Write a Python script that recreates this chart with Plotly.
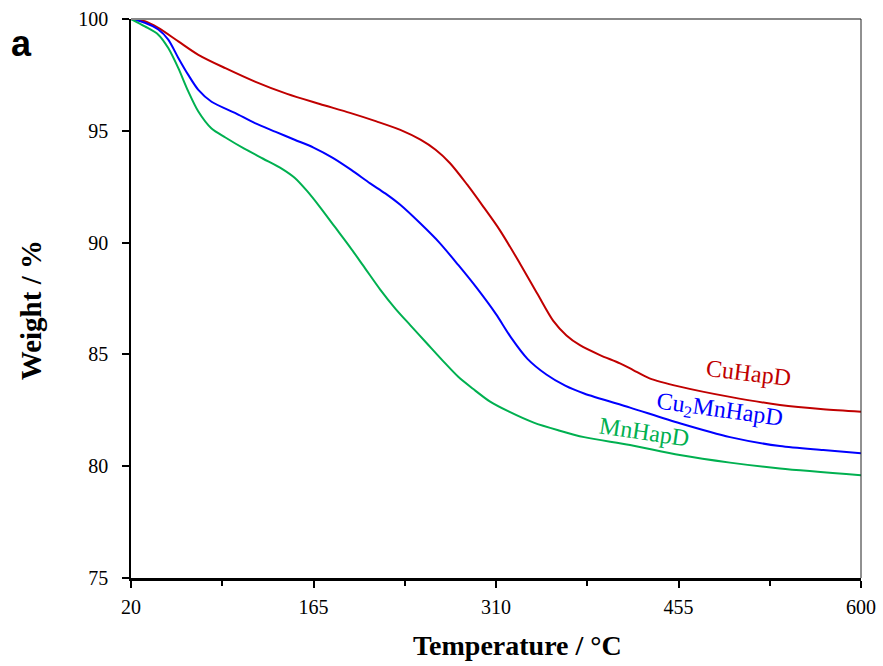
import plotly.graph_objects as go

# ---- data ----
cu_T = [20, 31, 41.7, 57.6, 73.5, 95, 118.5, 144, 170, 194, 215, 234, 250, 262, 273.5, 287, 300,
        313, 329, 343, 355.5, 366, 377, 392.6, 408.5, 419, 432, 456, 495.9, 535.6, 570, 600]
cu_W = [100, 99.9, 99.6, 99.0, 98.4, 97.8, 97.2, 96.65, 96.2, 95.8, 95.42, 95.04, 94.6, 94.15, 93.55, 92.6, 91.6,
        90.56, 89.07, 87.7, 86.5, 85.85, 85.4, 84.97, 84.6, 84.3, 83.93, 83.56, 83.1, 82.74, 82.55, 82.44]

cumn_T = [20, 31, 41.7, 49.6, 57.6, 65.5, 73.5, 84, 102.6, 118.5, 135, 150, 165, 180, 195, 210, 222,
          233.7, 250, 265, 280, 295, 310, 322, 335, 350, 365, 380, 416.5, 456, 495.9, 535.6, 570, 600]
cumn_W = [100, 99.83, 99.53, 99.08, 98.26, 97.5, 96.83, 96.3, 95.8, 95.34, 94.95, 94.6, 94.25, 93.8, 93.25, 92.65, 92.2,
          91.7, 90.85, 90.0, 89.0, 87.95, 86.8, 85.75, 84.8, 84.1, 83.6, 83.25, 82.62, 81.92, 81.3, 80.9, 80.72, 80.58]

mn_T = [20, 31, 41.7, 49.6, 57.6, 65.5, 73.5, 84, 95, 110, 125, 140, 150, 160, 170, 182, 194, 206, 218,
        230, 242, 255, 268, 280, 292, 305, 320, 340, 360, 380, 416.5, 456, 495.9, 535.6, 600]
mn_W = [100, 99.67, 99.3, 98.7, 97.8, 96.76, 95.86, 95.1, 94.7, 94.2, 93.75, 93.3, 92.9, 92.3, 91.6, 90.7, 89.8, 88.85, 87.9,
        87.05, 86.3, 85.5, 84.7, 84.0, 83.45, 82.9, 82.45, 81.95, 81.6, 81.3, 80.95, 80.5, 80.16, 79.9, 79.6]

x_ticks = [20, 165, 310, 455, 600]
y_ticks = [75, 80, 85, 90, 95, 100]

series_names = ["CuHapD", "Cu<sub>2</sub>MnHapD", "MnHapD"]
series_colors = ["#C00000", "#0000FF", "#00B050"]
label_T = [510.7, 487.3, 428.1]
label_W = [84.18, 82.47, 81.54]
label_angle = [7, 8, 8.5]

SERIF = "Liberation Serif, Times New Roman, serif"

fig = go.Figure()
for T, W, c in [(cu_T, cu_W, series_colors[0]), (cumn_T, cumn_W, series_colors[1]), (mn_T, mn_W, series_colors[2])]:
    fig.add_trace(go.Scatter(x=T, y=W, mode="lines", line=dict(color=c, width=2, shape="spline", smoothing=0.8),
                             showlegend=False, hoverinfo="skip"))

for name, c, tx, wy, ang in zip(series_names, series_colors, label_T, label_W, label_angle):
    fig.add_annotation(x=tx, y=wy, xref="x", yref="y", text=name, showarrow=False, textangle=ang,
                       font=dict(family=SERIF, size=24, color=c), xanchor="center", yanchor="middle")

fig.add_annotation(x=-0.15, y=0.957, xref="paper", yref="paper", text="<b>a</b>", showarrow=False,
                   font=dict(family="Liberation Sans, Arial, sans-serif", size=36, color="black"),
                   xanchor="center", yanchor="middle")
fig.add_annotation(x=0.530, y=-0.12, xref="paper", yref="paper", text="<b>Temperature / °C</b>",
                   showarrow=False, font=dict(family=SERIF, size=28, color="black"),
                   xanchor="center", yanchor="middle")
fig.add_annotation(x=-0.137, y=0.479, xref="paper", yref="paper", text="<b>Weight / %</b>", textangle=-90,
                   showarrow=False, font=dict(family=SERIF, size=29, color="black"),
                   xanchor="center", yanchor="middle")

fig.add_shape(type="line", xref="paper", yref="paper", x0=0, x1=1, y0=1, y1=1,
              line=dict(color="#888888", width=2))
fig.add_shape(type="line", xref="paper", yref="paper", x0=1, x1=1, y0=0, y1=1,
              line=dict(color="#222222", width=1))

fig.update_layout(
    width=883, height=666,
    margin=dict(l=131, r=22, t=19, b=88),
    paper_bgcolor="white", plot_bgcolor="white",
    xaxis=dict(range=[20, 600], tickvals=x_ticks, ticktext=[str(v) for v in x_ticks],
               automargin=False,
               showgrid=False, zeroline=False, showline=True, linecolor="black", linewidth=3,
               ticks="outside", ticklen=7, tickwidth=1.5, tickcolor="black",
               ticklabelstandoff=2,
               minor=dict(tickvals=[92.5, 237.5, 382.5, 527.5], ticks="outside", ticklen=5,
                          tickwidth=1.5, tickcolor="black", showgrid=False),
               tickfont=dict(family=SERIF, size=20, color="black")),
    yaxis=dict(range=[75, 100], tickvals=y_ticks, showgrid=False, zeroline=False,
               automargin=False,
               showline=True, linecolor="black", linewidth=1.5,
               ticks="outside", ticklen=7, tickwidth=1.5, tickcolor="black",
               ticklabelstandoff=10,
               tickfont=dict(family=SERIF, size=20, color="black")),
)

fig.write_html("out.html", config={"displayModeBar": False},
               post_script="document.body.style.margin='0';document.body.style.overflow='hidden';")
